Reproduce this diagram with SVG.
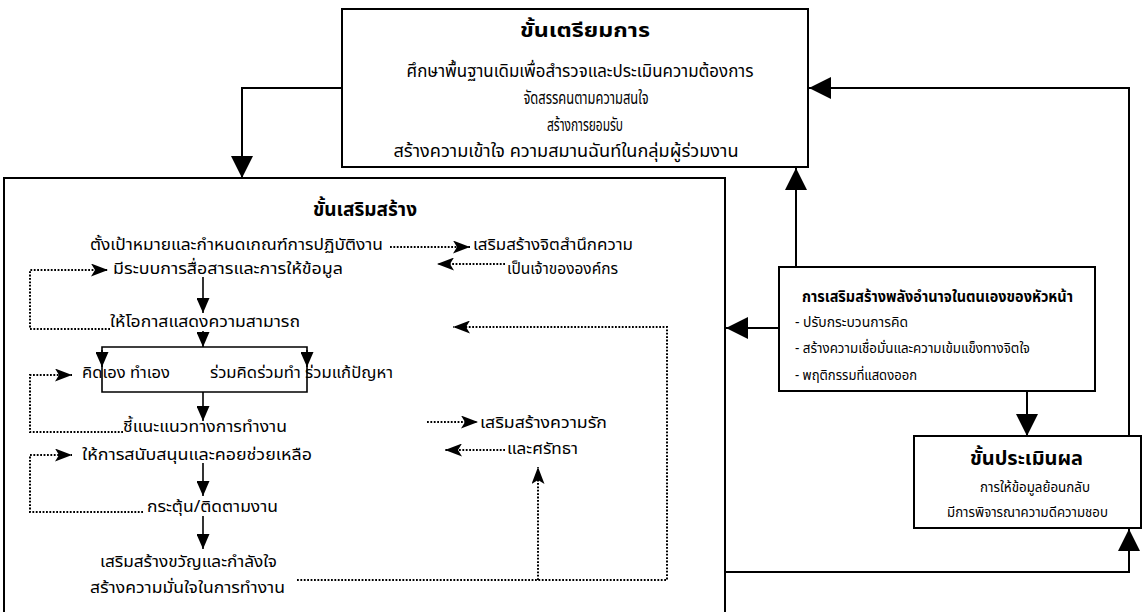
<svg xmlns="http://www.w3.org/2000/svg" width="1146" height="612" viewBox="0 0 1146 612">
<style>
.box{fill:#fff;stroke:#000;stroke-width:2}
.ln{fill:none;stroke:#000;stroke-width:2}
.sl{fill:none;stroke:#000;stroke-width:1.6}
.dt{fill:none;stroke:#000;stroke-width:2;stroke-dasharray:1.8 1.6}
text{font-family:"Noto Sans Thai","Noto Sans","DejaVu Sans",sans-serif;fill:#000}
.h{font-size:17px}
.t{font-size:16px}
.tb{font-size:20px;font-weight:bold}
.s{font-size:14px}
.sb{font-size:15px;font-weight:bold}
.m{text-anchor:middle}
</style>
<defs>
<marker id="big" markerUnits="userSpaceOnUse" viewBox="0 0 22 22" markerWidth="22" markerHeight="22" refX="22" refY="11" orient="auto"><path d="M0,0 L22,11 L0,22 z" fill="#000"/></marker>
<marker id="sm" markerUnits="userSpaceOnUse" viewBox="0 0 15 13" markerWidth="15" markerHeight="13" refX="15" refY="6.5" orient="auto"><path d="M0,0 L15,6.5 L0,13 z" fill="#000"/></marker>
<marker id="dart" markerUnits="userSpaceOnUse" viewBox="0 0 17 13" markerWidth="17" markerHeight="13" refX="17" refY="6.5" orient="auto"><path d="M0,0 L17,6.5 L0,13 L4,6.5 z" fill="#000"/></marker>
</defs>
<rect width="1146" height="612" fill="#fff"/>

<g id="connectors">
<path class="ln" d="M342,88 H242 V178" marker-end="url(#big)"/>
<path class="ln" d="M796,267 V168" marker-end="url(#big)"/>
<path class="ln" d="M779,328 H726" marker-end="url(#big)"/>
<path class="ln" d="M1027,391 V436" marker-end="url(#big)"/>
<path class="ln" d="M1129,436 V88 H809" marker-end="url(#big)"/>
<path class="ln" d="M725,572 H1129 V529" marker-end="url(#big)"/>
</g>

<g id="prep">
<rect class="box" x="342" y="9" width="466" height="158"/>
<text class="tb m" x="585" y="37" textLength="130" lengthAdjust="spacingAndGlyphs">ขั้นเตรียมการ</text>
<text class="h m" x="580" y="77" textLength="347" lengthAdjust="spacingAndGlyphs">ศึกษาพื้นฐานเดิมเพื่อสำรวจและประเมินความต้องการ</text>
<text class="h m" x="586" y="104" textLength="125" lengthAdjust="spacingAndGlyphs">จัดสรรคนตามความสนใจ</text>
<text class="h m" x="585" y="131" textLength="76" lengthAdjust="spacingAndGlyphs">สร้างการยอมรับ</text>
<text class="h m" x="566" y="157" textLength="345" lengthAdjust="spacingAndGlyphs">สร้างความเข้าใจ ความสมานฉันท์ในกลุ่มผู้ร่วมงาน</text>
</g>

<g id="build">
<path class="box" d="M4,616 V178 H725 V616"/>
<text class="tb m" x="365" y="216" textLength="104" lengthAdjust="spacingAndGlyphs">ขั้นเสริมสร้าง</text>
<text class="t" x="90" y="250" textLength="293" lengthAdjust="spacingAndGlyphs">ตั้งเป้าหมายและกำหนดเกณฑ์การปฏิบัติงาน</text>
<text class="t" x="113" y="274" textLength="230" lengthAdjust="spacingAndGlyphs">มีระบบการสื่อสารและการให้ข้อมูล</text>
<text class="t" x="110" y="327" textLength="190" lengthAdjust="spacingAndGlyphs">ให้โอกาสแสดงความสามารถ</text>
<text class="t" x="82" y="378" textLength="88" lengthAdjust="spacingAndGlyphs">คิดเอง ทำเอง</text>
<text class="t" x="210" y="378" textLength="183" lengthAdjust="spacingAndGlyphs">ร่วมคิดร่วมทำ ร่วมแก้ปัญหา</text>
<text class="t" x="123" y="432" textLength="164" lengthAdjust="spacingAndGlyphs">ชี้แนะแนวทางการทำงาน</text>
<text class="t" x="82" y="460" textLength="230" lengthAdjust="spacingAndGlyphs">ให้การสนับสนุนและคอยช่วยเหลือ</text>
<text class="t" x="147" y="512" textLength="131" lengthAdjust="spacingAndGlyphs">กระตุ้น/ติดตามงาน</text>
<text class="t" x="100" y="567" textLength="177" lengthAdjust="spacingAndGlyphs">เสริมสร้างขวัญและกำลังใจ</text>
<text class="t" x="90" y="593" textLength="195" lengthAdjust="spacingAndGlyphs">สร้างความมั่นใจในการทำงาน</text>
<text class="t" x="473" y="250" textLength="160" lengthAdjust="spacingAndGlyphs">เสริมสร้างจิตสำนึกความ</text>
<text class="t" x="507" y="274" textLength="111" lengthAdjust="spacingAndGlyphs">เป็นเจ้าขององค์กร</text>
<text class="t" x="480" y="428" textLength="127" lengthAdjust="spacingAndGlyphs">เสริมสร้างความรัก</text>
<text class="t" x="507" y="454" textLength="71" lengthAdjust="spacingAndGlyphs">และศรัทธา</text>
</g>

<g id="build-flow">
<path class="sl" d="M203,277 V313" marker-end="url(#sm)"/>
<path class="sl" d="M203,331 V347" marker-end="url(#sm)"/>
<path class="sl" d="M102,392 V347 H307 V392 Z"/>
<path class="sl" d="M102,350 V367" marker-end="url(#sm)"/>
<path class="sl" d="M307,350 V367" marker-end="url(#sm)"/>
<path class="sl" d="M203,392 V421" marker-end="url(#sm)"/>
<path class="sl" d="M203,463 V496" marker-end="url(#sm)"/>
<path class="sl" d="M203,516 V549" marker-end="url(#sm)"/>
<path class="dt" d="M390,247 H470" marker-end="url(#dart)"/>
<path class="dt" d="M505,264 H437" marker-end="url(#dart)"/>
<path class="dt" d="M110,329 H30 V270 H108" marker-end="url(#dart)"/>
<path class="dt" d="M123,432 H30 V375 H72" marker-end="url(#dart)"/>
<path class="dt" d="M143,512 H30 V455 H72" marker-end="url(#dart)"/>
<path class="dt" d="M297,580 H667 V327 H453" marker-end="url(#dart)"/>
<path class="dt" d="M538,580 V467" marker-end="url(#dart)"/>
<path class="dt" d="M427,422 H478" marker-end="url(#dart)"/>
<path class="dt" d="M505,450 H445" marker-end="url(#dart)"/>
</g>

<g id="empower">
<rect class="box" x="779" y="267" width="316" height="124"/>
<text class="sb" x="802" y="302" textLength="271" lengthAdjust="spacingAndGlyphs">การเสริมสร้างพลังอำนาจในตนเองของหัวหน้า</text>
<text class="s" x="795" y="327" textLength="113" lengthAdjust="spacingAndGlyphs">- ปรับกระบวนการคิด</text>
<text class="s" x="795" y="353" textLength="235" lengthAdjust="spacingAndGlyphs">- สร้างความเชื่อมั่นและความเข้มแข็งทางจิตใจ</text>
<text class="s" x="795" y="380" textLength="122" lengthAdjust="spacingAndGlyphs">- พฤติกรรมที่แสดงออก</text>
</g>

<g id="evaluate">
<rect class="box" x="914" y="436" width="227" height="92"/>
<text class="tb" x="970" y="465" textLength="113" lengthAdjust="spacingAndGlyphs">ขั้นประเมินผล</text>
<text class="s" x="980" y="492" textLength="110" lengthAdjust="spacingAndGlyphs">การให้ข้อมูลย้อนกลับ</text>
<text class="s" x="947" y="517" textLength="161" lengthAdjust="spacingAndGlyphs">มีการพิจารณาความดีความชอบ</text>
</g>
</svg>
